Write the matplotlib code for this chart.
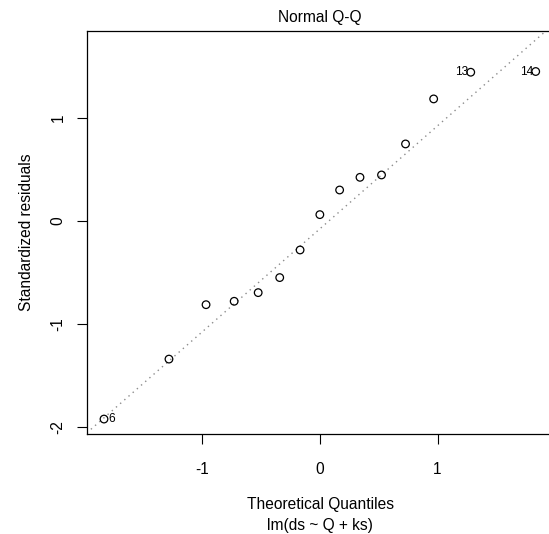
import matplotlib
matplotlib.use("Agg")
import matplotlib.pyplot as plt

# theoretical quantiles and standardized residuals
theo_q = [-1.834, -1.282, -0.967, -0.728, -0.524, -0.341, -0.168, 0.0,
          0.168, 0.341, 0.524, 0.728, 0.967, 1.282, 1.834]
std_res = [-1.926, -1.344, -0.816, -0.783, -0.699, -0.553, -0.285, 0.058,
           0.297, 0.420, 0.443, 0.744, 1.181, 1.440, 1.447]
# labelled observations: (index into arrays, label)
flagged = [(0, "6"), (13, "13"), (14, "14")]
# reference line
qq_intercept = -0.08
qq_slope = 1.0

plt.rcParams['font.family'] = ['Liberation Sans', 'DejaVu Sans']
plt.rcParams['axes.unicode_minus'] = False

fig = plt.figure(figsize=(5.49, 5.34), dpi=100)
ax = fig.add_axes([86.7 / 549, 1 - 434 / 534, (553 - 86.7) / 549, (434 - 30.5) / 534])

ax.axline((0, qq_intercept), slope=qq_slope, color='#8c8c8c', lw=1.0,
          linestyle=(0, (1, 3)), zorder=1)
ax.scatter(theo_q, std_res, s=30, facecolors='none', edgecolors='black',
           linewidths=0.9, zorder=2)

for i, lab in flagged:
    if theo_q[i] < 0:
        ax.annotate(lab, (theo_q[i], std_res[i]), xytext=(3.5, 0),
                    textcoords='offset points', ha='left', va='center', fontsize=8.6)
    else:
        ax.annotate(lab, (theo_q[i], std_res[i]), xytext=(-1.5, 0),
                    textcoords='offset points', ha='right', va='center', fontsize=8.6)

ax.set_xlim(-1.981, 1.981)
ax.set_ylim(-2.071, 1.845)
ax.set_xticks([-1, 0, 1])
ax.set_yticks([-2, -1, 0, 1])
ax.tick_params(direction='out', length=7.2, width=0.8, labelsize=11.2)
ax.tick_params(axis='x', pad=13)
ax.tick_params(axis='y', labelrotation=90, pad=8)
for lbl in ax.get_yticklabels():
    lbl.set_va('center')
for sp in ax.spines.values():
    sp.set_linewidth(0.9)

ax.set_title("Normal Q-Q", fontsize=11.2, pad=6)
ax.set_ylabel("Standardized residuals", fontsize=11.2, labelpad=12)
fig.text(320 / 549, 1 - 505 / 534, "Theoretical Quantiles", ha='center', va='center',
         fontsize=11.2)
fig.text(320 / 549, 0.002, "lm(ds ~ Q + ks)", ha='center', va='bottom',
         fontsize=11.2)

fig.savefig("out.png", dpi=100)
